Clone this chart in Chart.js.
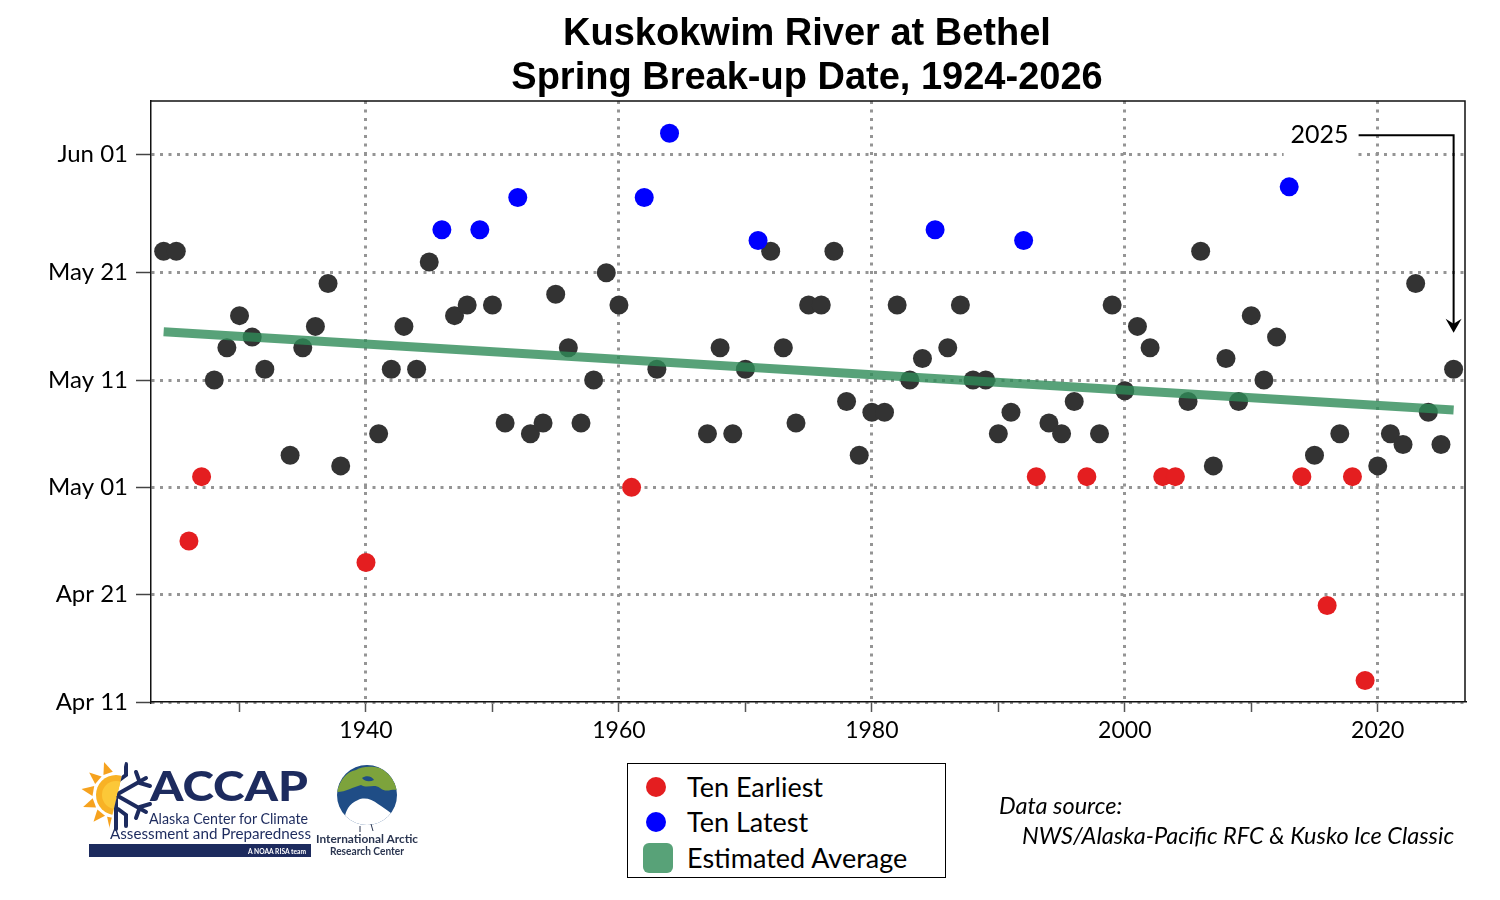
<!DOCTYPE html>
<html>
<head>
<meta charset="utf-8">
<script src="https://cdn.jsdelivr.net/npm/chart.js@4.4.1/dist/chart.umd.min.js"></script>
<style>
  html, body { margin:0; padding:0; background:#fff; }
  #wrap { position:relative; width:1500px; height:900px; overflow:hidden; background:#fff; }
  #c { position:absolute; left:0; top:0; }
  #title { position:absolute; left:357px; width:900px; top:10px; text-align:center;
           font-family:"Liberation Sans", Arial, sans-serif; font-weight:bold; font-size:38px;
           line-height:44px; color:#000; }
  #legend { position:absolute; left:627px; top:763px; width:317px; height:113px;
            border:1px solid #000; background:#fff; font-family:Lato, "Open Sans", sans-serif; }
  .li { position:absolute; left:0; height:34px; line-height:34px; font-size:27px; color:#000; }
  .li span.t { position:absolute; left:59px; white-space:nowrap; }
  .sw { position:absolute; }
  .src { position:absolute; font-family:Lato, "Open Sans", sans-serif; font-style:italic; font-size:23.5px; color:#000; white-space:nowrap; }
  #over { position:absolute; left:0; top:0; pointer-events:none; }
</style>
</head>
<body>
<div id="wrap">
  <canvas id="c" width="1500" height="900"></canvas>
  <div id="title">Kuskokwim River at Bethel<br>Spring Break-up Date, 1924-2026</div>

  <div id="legend">
    <div class="li" style="top:6px;width:100%"><div class="sw" style="left:18px;top:7px;width:20px;height:20px;border-radius:50%;background:#e41e20"></div><span class="t">Ten Earliest</span></div>
    <div class="li" style="top:41px;width:100%"><div class="sw" style="left:18px;top:7px;width:20px;height:20px;border-radius:50%;background:#0000ff"></div><span class="t">Ten Latest</span></div>
    <div class="li" style="top:77px;width:100%"><div class="sw" style="left:15px;top:2px;width:30px;height:30px;border-radius:6px;background:#58a278"></div><span class="t">Estimated Average</span></div>
  </div>

  <div class="src" style="left:999px;top:791px;">Data source:</div>
  <div class="src" style="left:1022px;top:821px;">NWS/Alaska-Pacific RFC &amp; Kusko Ice Classic</div>

  <svg id="over" width="1500" height="900" viewBox="0 0 1500 900">
    <defs>
      <clipPath id="sunClip"><polygon points="60,750 128,750 104,850 60,850"/></clipPath>
      <clipPath id="flakeClip"><polygon points="128,750 170,750 170,850 104,850"/></clipPath>
      <clipPath id="globeClip"><circle cx="367" cy="795" r="30"/></clipPath>
    </defs>
    <!-- ACCAP sun -->
    <g clip-path="url(#sunClip)">
      <g fill="#f6a21e">
        <polygon points="116,760 111,772 121,772" transform="rotate(-20 116 795)"/>
        <polygon points="116,760 111,772 121,772" transform="rotate(-50 116 795)"/>
        <polygon points="116,760 111,772 121,772" transform="rotate(-80 116 795)"/>
        <polygon points="116,760 111,772 121,772" transform="rotate(-110 116 795)"/>
        <polygon points="116,760 111,772 121,772" transform="rotate(-140 116 795)"/>
        <polygon points="116,760 111,772 121,772" transform="rotate(-170 116 795)"/>
        <polygon points="116,760 111,772 121,772" transform="rotate(-200 116 795)"/>
      </g>
      <circle cx="116" cy="795" r="20" fill="#f8b225"/>
      <circle cx="116" cy="795" r="14" fill="#fcc838"/>
    </g>
    <!-- ACCAP snowflake -->
    <g clip-path="url(#flakeClip)" stroke="#1d2b5e" stroke-width="4" stroke-linecap="round" fill="none">
      <line x1="116" y1="795" x2="116" y2="761"/>
      <line x1="116" y1="795" x2="146" y2="778"/>
      <line x1="116" y1="795" x2="146" y2="812"/>
      <line x1="116" y1="795" x2="116" y2="829"/>
      <polyline points="136,772 140,783 150,786"/>
      <polyline points="136,818 140,807 150,804"/>
      <polyline points="126,764 126,775 118,781"/>
      <polyline points="126,826 126,815 118,809"/>
    </g>
    <text x="150" y="801" font-family="Lato, sans-serif" font-weight="900" font-size="41" fill="#1d2b5e" textLength="158" lengthAdjust="spacingAndGlyphs">ACCAP</text>
    <text x="149" y="824" font-family="Lato, sans-serif" font-size="16" fill="#1d2b5e" textLength="159" lengthAdjust="spacingAndGlyphs">Alaska Center for Climate</text>
    <text x="110" y="839" font-family="Lato, sans-serif" font-size="16" fill="#1d2b5e" textLength="201" lengthAdjust="spacingAndGlyphs">Assessment and Preparedness</text>
    <rect x="89" y="844" width="222" height="13" fill="#1d2b5e"/>
    <text x="248" y="854" font-family="Lato, sans-serif" font-weight="bold" font-size="8" fill="#fff" textLength="58" lengthAdjust="spacingAndGlyphs">A NOAA RISA team</text>
    <!-- IARC globe -->
    <circle cx="367" cy="795" r="30" fill="#1f4d86"/>
    <g clip-path="url(#globeClip)">
      <path d="M337,792 C340,780 346,772 356,770 C362,766 372,766 380,768 C388,772 395,780 397,790 C391,789 386,793 380,788 C374,783 368,789 361,785 C353,787 346,792 337,792 Z" fill="#7da33c"/>
      <path d="M362,778 C366,775 372,776 374,780 C370,782 365,782 362,778 Z" fill="#1f4d86"/>
      <path d="M345,826 C343,814 348,804 358,800 C364,797 372,799 378,804 C384,808 390,812 397,818 L397,830 Z" fill="#ffffff"/>
    </g>
    <line x1="360" y1="826" x2="360" y2="832" stroke="#2a3550" stroke-width="1"/>
    <line x1="371" y1="824" x2="373" y2="831" stroke="#2a3550" stroke-width="1"/>
    <text x="367" y="843" text-anchor="middle" font-family="Lato, sans-serif" font-weight="bold" font-size="12" fill="#2a3550" textLength="102" lengthAdjust="spacingAndGlyphs">International Arctic</text>
    <text x="367" y="855" text-anchor="middle" font-family="Lato, sans-serif" font-weight="bold" font-size="12" fill="#2a3550" textLength="74" lengthAdjust="spacingAndGlyphs">Research Center</text>
  </svg>
</div>

<script>
// ---------------- DATA ----------------
const years = [1924,1925,1926,1927,1928,1929,1930,1931,1932,1934,1935,1936,1937,1938,
  1940,1941,1942,1943,1944,1945,1946,1947,1948,1949,1950,1951,1952,1953,1954,1955,1956,1957,1958,1959,
  1960,1961,1962,1963,1964,1967,1968,1969,1970,1971,1972,1973,1974,1975,1976,1977,1978,1979,
  1980,1981,1982,1983,1984,1985,1986,1987,1988,1989,1990,1991,1992,1993,1994,1995,1996,1997,1998,1999,
  2000,2001,2002,2003,2004,2005,2006,2007,2008,2009,2010,2011,2012,2013,2014,2015,2016,2017,2018,2019,
  2020,2021,2022,2023,2024,2025,2026];
const breakupDates = ['05-23','05-23','04-26','05-02','05-11','05-14','05-17','05-15','05-12','05-04','05-14','05-16','05-20','05-03',
  '04-24','05-06','05-12','05-16','05-12','05-22','05-25','05-17','05-18','05-25','05-18','05-07','05-28','05-06','05-07','05-19','05-14','05-07','05-11','05-21',
  '05-18','05-01','05-28','05-12','06-03','05-06','05-14','05-06','05-12','05-24','05-23','05-14','05-07','05-18','05-18','05-23','05-09','05-04',
  '05-08','05-08','05-18','05-11','05-13','05-25','05-14','05-18','05-11','05-11','05-06','05-08','05-24','05-02','05-07','05-06','05-09','05-02','05-06','05-18',
  '05-10','05-16','05-14','05-02','05-02','05-09','05-23','05-03','05-13','05-09','05-17','05-11','05-15','05-29','05-02','05-04','04-20','05-06','05-02','04-13',
  '05-03','05-06','05-05','05-20','05-08','05-05','05-12'];
const tenEarliestYears = [1926,1927,1940,1961,1993,1997,2003,2004,2014,2016,2018,2019];
const tenLatestYears = [1946,1949,1952,1962,1964,1971,1985,1992,2013];
const trendYears = [1924, 2026];
const trendDates = ['05-15.5', '05-08.2'];
const yTickLabels = ['Apr 11','Apr 21','May 01','May 11','May 21','Jun 01'];
const xTickYears = [1930,1940,1950,1960,1970,1980,1990,2000,2010,2020];
const xLabelYears = [1940,1960,1980,2000,2020];
const annotationYear = 2026;
const annotationText = '2025';

// ---------------- helpers ----------------
const monthIdx = {Jan:1,Feb:2,Mar:3,Apr:4,May:5,Jun:6};
const cumDays = [0,0,31,59,90,120,151];
function doyFromMD(s){ const [m,d] = s.split('-'); return cumDays[parseInt(m,10)] + parseFloat(d); }
function doyFromLabel(s){ const [mn,d] = s.split(' '); return cumDays[monthIdx[mn]] + parseInt(d,10); }
const yTickValues = yTickLabels.map(doyFromLabel);

const pts = years.map((y,i)=>({x:y, y:doyFromMD(breakupDates[i])}));
const redPts = pts.filter(p=>tenEarliestYears.includes(p.x));
const bluePts = pts.filter(p=>tenLatestYears.includes(p.x));
const blackPts = pts.filter(p=>!tenEarliestYears.includes(p.x) && !tenLatestYears.includes(p.x));
const trendPts = trendYears.map((y,i)=>({x:y, y:doyFromMD(trendDates[i])}));

const FONT = 'Lato, "Open Sans", sans-serif';

const framePlugin = {
  id:'frame',
  beforeDatasetsDraw(chart){
    const {ctx, chartArea:a} = chart;
    ctx.save();
    ctx.strokeStyle = '#111'; ctx.lineWidth = 1.5;
    ctx.beginPath();
    ctx.moveTo(a.left, a.top); ctx.lineTo(a.right, a.top); ctx.lineTo(a.right, a.bottom);
    ctx.stroke();
    ctx.restore();
  }
};

const annotPlugin = {
  id:'annot',
  afterDatasetsDraw(chart){
    const {ctx, scales:{x,y}} = chart;
    const ax = x.getPixelForValue(annotationYear);
    const topY = y.getPixelForValue(153.8);
    const tipY = y.getPixelForValue(135.4);
    ctx.save();
    ctx.fillStyle = '#fff';
    ctx.fillRect(ax - 170, topY - 17, 74, 41);
    ctx.font = '25px ' + FONT;
    ctx.fillStyle = '#000';
    ctx.textAlign = 'right';
    ctx.textBaseline = 'middle';
    ctx.fillText(annotationText, ax - 105, topY);
    ctx.strokeStyle = '#000'; ctx.lineWidth = 2;
    ctx.beginPath();
    ctx.moveTo(ax - 95, topY); ctx.lineTo(ax, topY); ctx.lineTo(ax, tipY - 8);
    ctx.stroke();
    ctx.fillStyle = '#000';
    ctx.beginPath();
    ctx.moveTo(ax, tipY); ctx.lineTo(ax - 8, tipY - 14); ctx.lineTo(ax, tipY - 9); ctx.lineTo(ax + 8, tipY - 14);
    ctx.closePath(); ctx.fill();
    ctx.restore();
  }
};

new Chart(document.getElementById('c').getContext('2d'), {
  type:'scatter',
  data:{ datasets:[
    { label:'Estimated Average', data:trendPts, showLine:true, borderColor:'rgba(46,139,87,0.8)',
      borderWidth:9, pointRadius:0, borderCapStyle:'butt' },
    { label:'Ten Latest', data:bluePts, backgroundColor:'#0000ff', borderWidth:0, pointRadius:9.5 },
    { label:'Ten Earliest', data:redPts, backgroundColor:'#e41e20', borderWidth:0, pointRadius:9.5 },
    { label:'Other years', data:blackPts, backgroundColor:'#333333', borderWidth:0, pointRadius:9.5 }
  ]},
  options:{
    responsive:false, animation:false, events:[],
    layout:{ padding:{ top:101, right:35, left:0, bottom:0 } },
    plugins:{ legend:{display:false}, tooltip:{enabled:false}, title:{display:false} },
    scales:{
      x:{ type:'linear', min:1923, max:2026.9,
        afterBuildTicks:s=>{ s.ticks = xTickYears.map(v=>({value:v})); },
        afterFit:s=>{ s.height = 198; },
        ticks:{ autoSkip:false, maxRotation:0, padding:5, color:'#000',
          font:{family:FONT, size:23},
          callback:v=> xLabelYears.includes(v) ? String(v) : '' },
        grid:{ color:c=> (c.tick && xLabelYears.includes(c.tick.value)) ? '#959595' : 'rgba(0,0,0,0)',
          lineWidth:3, tickColor:'#555', tickWidth:1.5, tickLength:10, tickBorderDash:[] },
        border:{ color:'#111', width:1.5, dash:[3,5.5] }
      },
      y:{ type:'linear', min:101, max:157,
        afterBuildTicks:s=>{ s.ticks = yTickValues.map(v=>({value:v})); },
        afterFit:s=>{ s.width = 151; },
        ticks:{ autoSkip:false, padding:8, color:'#000',
          font:{family:FONT, size:24},
          callback:v=>{ const i = yTickValues.indexOf(v); return i>=0 ? yTickLabels[i] : ''; } },
        grid:{ color:'#959595', lineWidth:3, tickColor:'#444', tickWidth:1.5, tickLength:15, tickBorderDash:[] },
        border:{ color:'#111', width:1.5, dash:[3,5.5] }
      }
    }
  },
  plugins:[framePlugin, annotPlugin]
});
</script>
</body>
</html>
